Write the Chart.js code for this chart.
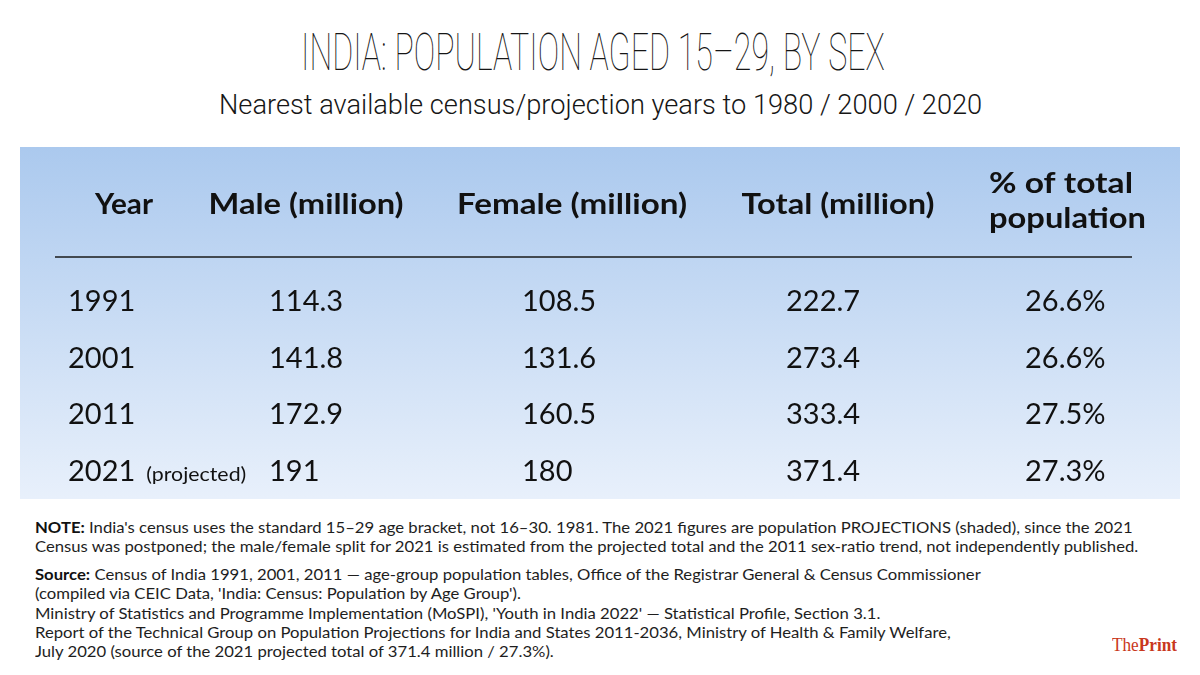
<!DOCTYPE html>
<html>
<head>
<meta charset="utf-8">
<script src="https://cdn.jsdelivr.net/npm/chart.js@4.4.1/dist/chart.umd.min.js"></script>
<style>
  html, body { margin:0; padding:0; background:#fff; width:1200px; height:675px; overflow:hidden; position:relative; }
  .t { position:absolute; white-space:nowrap; line-height:1; transform-origin:0 0; }
  #title { font-family:Roboto, sans-serif; font-weight:100; font-size:52px; color:#161616; top:27px; }
  #subtitle { font-family:Roboto, sans-serif; font-weight:300; font-size:28px; color:#161616; top:91px; }
  .note { font-family:Lato, sans-serif; font-size:16px; color:#1e1e1e; }
  .note b { font-weight:700; color:#111; }
  #logo { font-family:"Liberation Serif", serif; font-size:18px; color:#c9381d; top:636px; left:1112px; }
  #wrap { position:absolute; left:20px; top:147px; width:1160px; height:352px; }
</style>
</head>
<body>
<div id="title" class="t">INDIA: POPULATION AGED 15–29, BY SEX</div>
<div id="subtitle" class="t">Nearest available census/projection years to 1980 / 2000 / 2020</div>
<div id="wrap"><canvas id="c" width="1160" height="352"></canvas></div>
<div id="notes"></div>
<div id="logo" class="t">The<b>Print</b></div>
<script>
// ---------------- data ----------------
const years = ['1991', '2001', '2011', '2021'];
const yearNotes = ['', '', '', '(projected)'];
const maleMillion = [114.3, 141.8, 172.9, 191];
const femaleMillion = [108.5, 131.6, 160.5, 180];
const totalMillion = [222.7, 273.4, 333.4, 371.4];
const pctOfTotal = [26.6, 26.6, 27.5, 27.3];
const columnHeaders = [['Year'], ['Male (million)'], ['Female (million)'], ['Total (million)'], ['% of total', 'population']];

const noteLines = [
  "<b>NOTE:</b> India's census uses the standard 15–29 age bracket, not 16–30. 1981. The 2021 figures are population PROJECTIONS (shaded), since the 2021",
  "Census was postponed; the male/female split for 2021 is estimated from the projected total and the 2011 sex-ratio trend, not independently published.",
  "<b>Source:</b> Census of India 1991, 2001, 2011 — age-group population tables, Office of the Registrar General &amp; Census Commissioner",
  "(compiled via CEIC Data, 'India: Census: Population by Age Group').",
  "Ministry of Statistics and Programme Implementation (MoSPI), 'Youth in India 2022' — Statistical Profile, Section 3.1.",
  "Report of the Technical Group on Population Projections for India and States 2011-2036, Ministry of Health &amp; Family Welfare,",
  "July 2020 (source of the 2021 projected total of 371.4 million / 27.3%)."
];

// ---------------- text layout (HTML) ----------------
const notesEl = document.getElementById('notes');
const noteBaselines = [533, 552, 580, 599, 619, 638, 657];
const noteEls = noteLines.map((h, i) => {
  const d = document.createElement('div');
  d.className = 't note';
  d.innerHTML = h;
  d.style.left = '35px';
  d.style.top = (noteBaselines[i] - 14.2) + 'px';
  notesEl.appendChild(d);
  return d;
});
function fitWidth(el, w, cx, left) {
  const k = w / el.offsetWidth;
  el.style.transform = 'scaleX(' + k + ')';
  el.style.left = (left !== undefined ? left : (cx - w / 2)) + 'px';
  return k;
}
fitWidth(document.getElementById('title'), 584, 593);
fitWidth(document.getElementById('subtitle'), 763, 600);
fitWidth(document.getElementById('logo'), 65, 0, 1112);
const nk = 1098 / noteEls[0].offsetWidth;
noteEls.forEach(el => { el.style.transform = 'scaleX(' + nk + ')'; });

// ---------------- chart ----------------
const fmt = [
  v => v,
  v => String(v),
  v => String(v),
  v => String(v),
  v => v.toFixed(1) + '%'
];
const columnValues = [years, maleMillion, femaleMillion, totalMillion, pctOfTotal];

const datasets = columnValues.map((vals, c) => ({
  label: columnHeaders[c].join(' '),
  data: years.map(y => ({ x: c, y: Number(y) })),
  cells: vals.map(fmt[c]),
  notes: c === 0 ? yearNotes : null,
  pointRadius: 0,
  pointHoverRadius: 0,
  showLine: false
}));

function fillFit(ctx, text, x, y, align, targetW) {
  const w = ctx.measureText(text).width;
  const k = targetW ? targetW / w : 1;
  ctx.save();
  ctx.translate(x, y);
  ctx.scale(k, 1);
  ctx.textAlign = align;
  ctx.fillText(text, 0, 0);
  ctx.restore();
  return w * k;
}

const tablePlugin = {
  id: 'tableText',
  beforeDraw(chart) {
    const { ctx, width, height } = chart;
    const g = ctx.createLinearGradient(0, 0, 0, height);
    g.addColorStop(0, '#abc9ee');
    g.addColorStop(1, '#e8f0fb');
    ctx.save();
    ctx.fillStyle = g;
    ctx.fillRect(0, 0, width, height);
    ctx.restore();
  },
  afterDatasetsDraw(chart, args, opts) {
    const ctx = chart.ctx;
    const xs = chart.scales.x;
    ctx.save();
    ctx.fillStyle = opts.color;
    ctx.textBaseline = 'alphabetic';
    // headers
    columnHeaders.forEach((lines, c) => {
      const st = opts.columns[c];
      const cx = xs.getPixelForValue(c);
      ctx.font = opts.headerFont;
      const bl = opts.headerBaselines[lines.length - 1];
      lines.forEach((t, k) => fillFit(ctx, t, cx + st.headerDx, bl[k], st.headerAlign, st.headerW[k]));
    });
    // rule under header
    ctx.strokeStyle = opts.ruleColor;
    ctx.lineWidth = opts.ruleWidth;
    ctx.beginPath();
    ctx.moveTo(opts.rule.x0, opts.rule.y);
    ctx.lineTo(opts.rule.x1, opts.rule.y);
    ctx.stroke();
    // cells
    chart.data.datasets.forEach((ds, c) => {
      const meta = chart.getDatasetMeta(c);
      const st = opts.columns[c];
      meta.data.forEach((pt, r) => {
        const x = pt.x + st.cellDx;
        const y = pt.y + opts.cellBaselineShift;
        ctx.font = opts.cellFont;
        const w = fillFit(ctx, ds.cells[r], x, y, 'left');
        if (ds.notes && ds.notes[r]) {
          ctx.font = opts.noteFont;
          fillFit(ctx, ds.notes[r], x + w + opts.noteGap, y, 'left', opts.noteW);
        }
      });
    });
    ctx.restore();
  }
};

new Chart(document.getElementById('c'), {
  type: 'scatter',
  data: { datasets },
  options: {
    responsive: false,
    animation: false,
    events: [],
    layout: { padding: { top: 125, bottom: 0, left: 0, right: 0 }, autoPadding: false },
    scales: {
      x: { type: 'linear', min: -0.5, max: 4.5, display: false },
      y: { type: 'linear', min: 1986, max: 2026, reverse: true, display: false }
    },
    plugins: {
      legend: { display: false },
      tooltip: { enabled: false },
      tableText: {
        color: '#111',
        headerFont: 'bold 28px Lato',
        cellFont: '29px Lato',
        noteFont: '19px Lato',
        noteW: 100,
        noteGap: 11,
        cellBaselineShift: 10.5,
        headerBaselines: [[67], [46, 81]],
        rule: { x0: 35, x1: 1112, y: 110 },
        ruleColor: '#1a1a1a',
        ruleWidth: 1.5,
        columns: [
          { headerAlign: 'center', headerDx: -12, headerW: [58], cellDx: -68 },
          { headerAlign: 'center', headerDx: -62, headerW: [195], cellDx: -99 },
          { headerAlign: 'center', headerDx: -28, headerW: [230], cellDx: -78 },
          { headerAlign: 'center', headerDx: 6, headerW: [193], cellDx: -46 },
          { headerAlign: 'left', headerDx: -75, headerW: [144, 157], cellDx: -39 }
        ]
      }
    }
  },
  plugins: [tablePlugin]
});
</script>
</body>
</html>
